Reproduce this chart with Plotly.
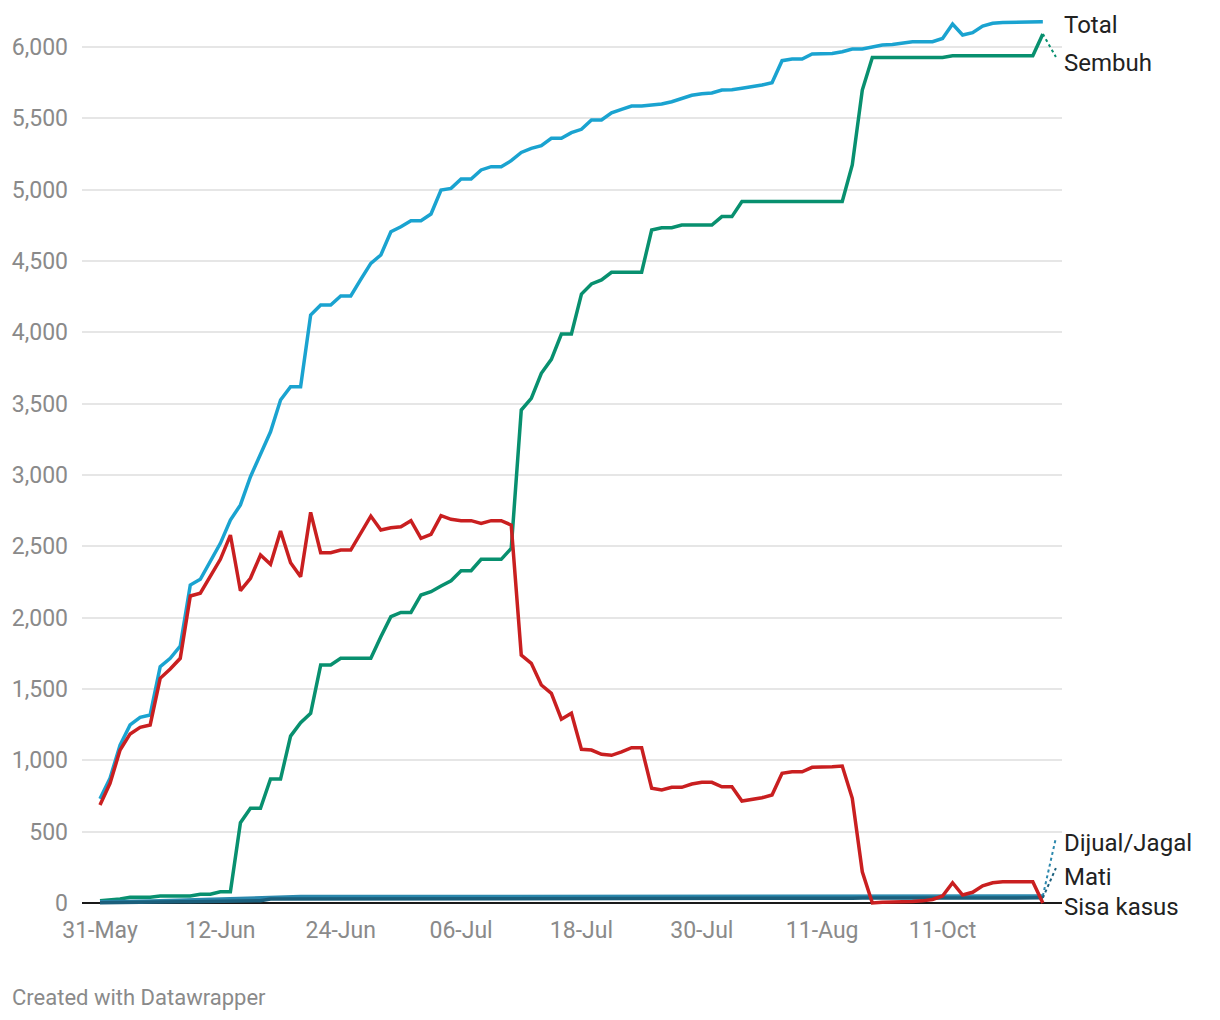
import pandas as pd
import plotly.graph_objects as go

# x categories: daily until 11-Aug, then irregular reporting dates
daily_dates = [d.strftime("%d-%b") for d in pd.date_range("2020-05-31", "2020-08-11")]
later_dates = ["13-Aug", "15-Aug", "18-Aug", "20-Aug", "24-Aug", "27-Aug", "31-Aug",
               "07-Sep", "14-Sep", "21-Sep", "28-Sep", "11-Oct", "14-Oct", "17-Oct",
               "21-Oct", "24-Oct", "28-Oct", "31-Oct", "04-Nov", "07-Nov", "11-Nov", "14-Nov"]
dates = daily_dates + later_dates

total = [730, 874, 1107, 1248, 1301, 1318, 1656, 1715, 1801, 2229, 2269, 2392, 2521, 2684,
         2790, 2988, 3140, 3303, 3526, 3619, 3619, 4121, 4191, 4191, 4255, 4255, 4371, 4483,
         4542, 4705, 4740, 4782, 4782, 4829, 4997, 5009, 5075, 5075, 5138, 5161, 5161, 5203,
         5261, 5289, 5308, 5360, 5360, 5399, 5423, 5488, 5488, 5539, 5563, 5586, 5586, 5593,
         5600, 5616, 5637, 5661, 5672, 5677, 5698, 5700, 5710, 5721, 5733, 5750, 5904, 5916,
         5916, 5951, 5951, 5955, 5967, 5986, 5986, 6002, 6014, 6018, 6025, 6037, 6037, 6037,
         6060, 6161, 6084, 6100, 6147, 6166, 6172, 6172, 6175, 6177, 6177]

sembuh = [16, 20, 28, 40, 40, 40, 49, 49, 49, 49, 61, 61, 79, 79, 563, 664, 664, 869, 869,
          1170, 1264, 1329, 1668, 1668, 1715, 1715, 1715, 1715, 1866, 2007, 2037, 2037, 2159,
          2182, 2222, 2259, 2329, 2329, 2409, 2409, 2409, 2486, 3455, 3537, 3713, 3811, 3988,
          3988, 4268, 4339, 4367, 4421, 4421, 4421, 4421, 4717, 4733, 4733, 4752, 4752, 4752,
          4752, 4811, 4811, 4916, 4916, 4916, 4916, 4917, 4917, 4917, 4917, 4917, 4917, 4917,
          5173, 5698, 5927, 5927, 5927, 5927, 5927, 5927, 5927, 5927, 5939, 5939, 5939, 5939,
          5939, 5939, 5939, 5939, 5939, 6091]

sisa_kasus = [687, 839, 1072, 1185, 1231, 1248, 1575, 1640, 1715, 2152, 2171, 2292, 2409,
              2579, 2189, 2276, 2439, 2374, 2607, 2385, 2287, 2738, 2455, 2455, 2474, 2474,
              2595, 2712, 2614, 2630, 2637, 2680, 2556, 2584, 2715, 2689, 2680, 2680, 2661,
              2680, 2680, 2649, 1738, 1680, 1528, 1470, 1288, 1330, 1077, 1072, 1042, 1035,
              1060, 1089, 1089, 804, 792, 811, 811, 834, 846, 846, 815, 815, 715, 727, 738, 757,
              909, 920, 920, 951, 951, 955, 960, 734, 219, 0, 5, 5, 10, 10, 15, 25, 49, 142, 56,
              75, 121, 142, 149, 149, 149, 149, 0]

dijual = [8, 8, 10, 12, 12, 14, 16, 18, 20, 22, 24, 26, 28, 30, 32, 34, 36, 44, 45, 45, 45,
          45, 45, 45, 45, 45, 45, 45, 45, 45, 45, 45, 45, 45, 45, 45, 48, 48, 48, 48, 48, 48,
          48, 48, 48, 48, 48, 48, 48, 48, 48, 48, 48, 48, 48, 48, 48, 48, 48, 48, 48, 50, 50,
          50, 50, 50, 50, 50, 50, 50, 50, 50, 50, 50, 50, 50, 50, 50, 50, 50, 50, 50, 50, 50,
          50, 50, 50, 50, 50, 50, 50, 50, 50, 50, 50]

mati = [2, 2, 3, 4, 4, 5, 6, 7, 8, 9, 10, 11, 12, 13, 14, 15, 16, 28, 28, 28, 28, 28, 28, 28,
        28, 28, 28, 29, 29, 29, 29, 29, 29, 30, 30, 30, 30, 30, 30, 30, 31, 31, 31, 31, 31, 32,
        32, 32, 32, 32, 32, 33, 33, 33, 33, 33, 33, 33, 33, 33, 33, 34, 34, 34, 34, 34, 34, 34,
        34, 34, 34, 34, 34, 34, 34, 34, 35, 35, 35, 35, 35, 35, 35, 35, 35, 35, 35, 35, 35, 35,
        35, 35, 35, 35, 36]

series = [
    ("Total", total, "#1aa3d0"),
    ("Sembuh", sembuh, "#08906f"),
    ("Dijual/Jagal", dijual, "#2b88ad"),
    ("Mati", mati, "#1b5f7c"),
    ("Sisa kasus", sisa_kasus, "#c91f20"),
]

# label placement at the right edge (value units) and dotted leader targets
label_y = {"Total": 6154, "Sembuh": 5888, "Dijual/Jagal": 421, "Mati": 182, "Sisa kasus": -28}
leader_y = {"Sembuh": 5930, "Dijual/Jagal": 456, "Mati": 245}

tick_idx = list(range(0, len(dates), 12))

fig = go.Figure()
for name, vals, color in series:
    fig.add_trace(go.Scatter(x=dates, y=vals, mode="lines", name=name,
                             line=dict(color=color, width=3.5), hoverinfo="x+y+name"))

last = len(dates) - 1
for name, vals, color in series:
    fig.add_annotation(x=1, xref="paper", y=label_y[name], yref="y", text=name,
                       showarrow=False, xanchor="left", yanchor="middle",
                       font=dict(family="Roboto", size=24, color="#222222"))
    if name in leader_y:
        fig.add_shape(type="line", xref="x", yref="y", x0=last, y0=vals[-1],
                      x1=last + 1.3, y1=leader_y[name],
                      line=dict(color=color, width=2, dash="dot"))

fig.add_annotation(x=-72 / 980, xref="paper", y=-86 / 891, yref="paper",
                   text="Created with Datawrapper", showarrow=False,
                   xanchor="left", yanchor="middle",
                   font=dict(family="Roboto", size=22, color="#8a8a8a"))

# page body adds an 8px offset, so the figure is 8px smaller and margins shifted
fig.update_layout(
    width=1212, height=1012,
    margin=dict(l=74, r=158, t=12, b=109, autoexpand=False),
    plot_bgcolor="white", paper_bgcolor="white",
    showlegend=False,
    font=dict(family="Roboto", size=23, color="#8a8a8a"),
)
fig.update_xaxes(type="category", range=[-1.795, 95.91], automargin=False,
                 tickvals=[dates[i] for i in tick_idx],
                 ticktext=[dates[i] for i in tick_idx],
                 showgrid=False, zeroline=False, showline=False, ticks="",
                 ticklabelstandoff=3,
                 tickfont=dict(family="Roboto", size=23, color="#8a8a8a"))
fig.update_yaxes(range=[-56, 6189], tickvals=list(range(0, 6001, 500)), automargin=False,
                 tickformat=",", showgrid=True, gridcolor="#e6e6e6", gridwidth=1.5,
                 zeroline=True, zerolinecolor="#1a1a1a", zerolinewidth=2,
                 showline=False, ticks="", ticklabelstandoff=13,
                 tickfont=dict(family="Roboto", size=23, color="#8a8a8a"))

fig.write_html("out.html")
